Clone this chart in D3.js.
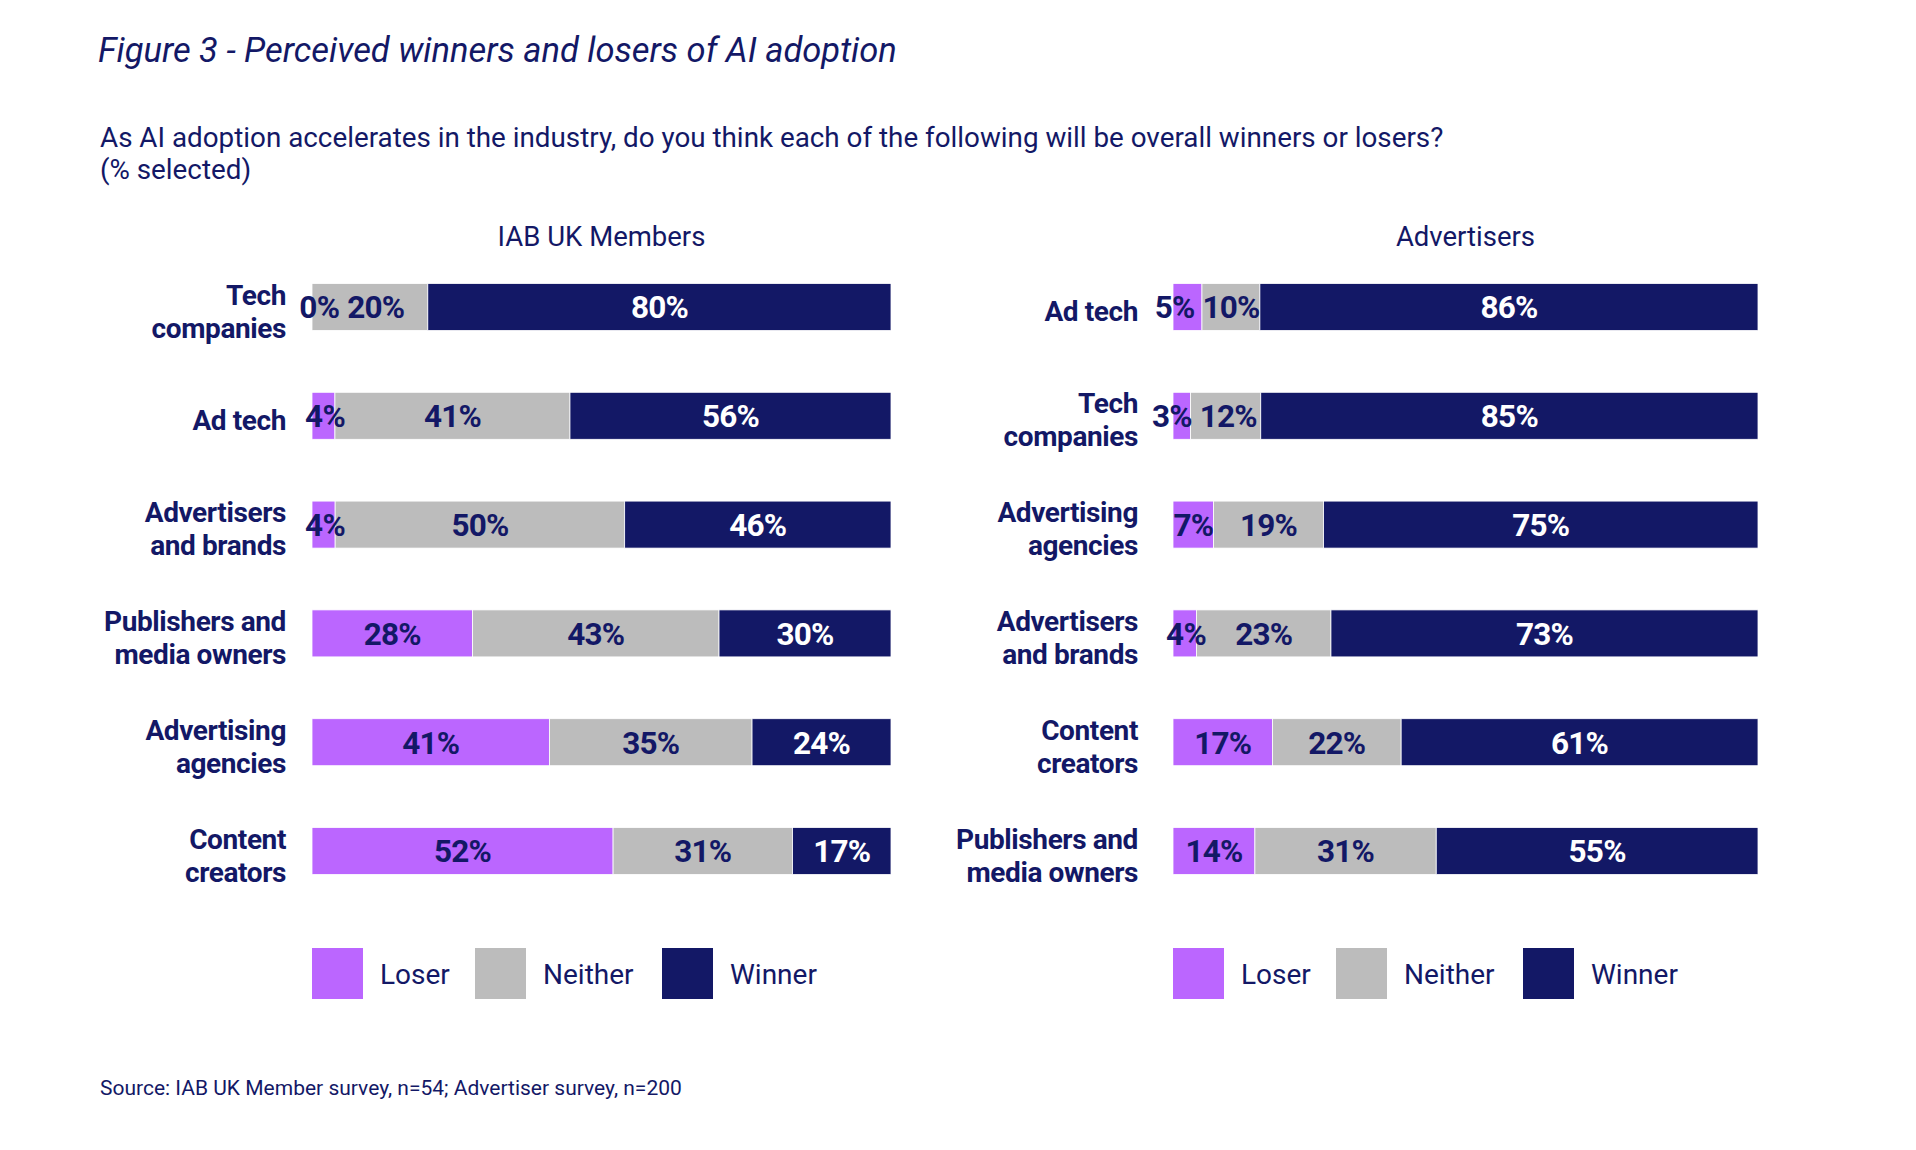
<!DOCTYPE html>
<html>
<head>
<meta charset="utf-8">
<script src="https://cdn.jsdelivr.net/npm/d3@7"></script>
<style>
  html, body { margin: 0; padding: 0; background: #fff; }
  svg { display: block; font-family: Roboto, 'Open Sans', sans-serif; }
</style>
</head>
<body>
<svg id="chart" width="1916" height="1150"></svg>
<script>
// --- data ---
const series = ['Loser', 'Neither', 'Winner']
const colors = ['#bb66ff', '#bcbcbc', '#131866']

const membersCategories = [
  'Tech companies', 'Ad tech', 'Advertisers and brands',
  'Publishers and media owners', 'Advertising agencies', 'Content creators'
]
const membersLoser = [0, 4, 4, 28, 41, 52]
const membersNeither = [20, 41, 50, 43, 35, 31]
const membersWinner = [80, 56, 46, 30, 24, 17]

const advertisersCategories = [
  'Ad tech', 'Tech companies', 'Advertising agencies',
  'Advertisers and brands', 'Content creators', 'Publishers and media owners'
]
const advertisersLoser = [5, 3, 7, 4, 17, 14]
const advertisersNeither = [10, 12, 19, 23, 22, 31]
const advertisersWinner = [86, 85, 75, 73, 61, 55]

// how the category names wrap on two lines
const labelLines = {
  'Tech companies': ['Tech', 'companies'],
  'Ad tech': ['Ad tech'],
  'Advertisers and brands': ['Advertisers', 'and brands'],
  'Publishers and media owners': ['Publishers and', 'media owners'],
  'Advertising agencies': ['Advertising', 'agencies'],
  'Content creators': ['Content', 'creators']
}

const navy = '#131866'
const svg = d3.select('#chart')

svg.append('text')
  .attr('x', 98).attr('y', 62)
  .attr('font-size', 34.5).attr('font-style', 'italic')
  .attr('fill', navy)
  .text('Figure 3 - Perceived winners and losers of AI adoption')

svg.append('text')
  .attr('x', 100).attr('y', 147)
  .attr('font-size', 27.8).attr('fill', navy)
  .text('As AI adoption accelerates in the industry, do you think each of the following will be overall winners or losers?')
svg.append('text')
  .attr('x', 100).attr('y', 179)
  .attr('font-size', 27.8).attr('fill', navy)
  .text('(% selected)')

svg.append('text')
  .attr('x', 100).attr('y', 1095)
  .attr('font-size', 21).attr('fill', navy)
  .text('Source: IAB UK Member survey, n=54; Advertiser survey, n=200')

function drawPanel(title, categories, loser, neither, winner, x0, x1, labelRight) {
  const rows = categories.map((c, i) => ({
    category: c, Loser: loser[i], Neither: neither[i], Winner: winner[i]
  }))
  const stacked = d3.stack().keys(series).offset(d3.stackOffsetExpand)(rows)

  const x = d3.scaleLinear().domain([0, 1]).range([x0, x1])
  const y = d3.scaleBand()
    .domain(categories)
    .range([252.6, 905.4])
    .paddingInner(0.568)
    .paddingOuter(0.284)

  const g = svg.append('g')

  g.append('text')
    .attr('x', (x0 + x1) / 2).attr('y', 246)
    .attr('text-anchor', 'middle')
    .attr('font-size', 27.5).attr('fill', navy)
    .text(title)

  g.selectAll('g.layer')
    .data(stacked)
    .join('g')
    .attr('class', 'layer')
    .attr('fill', (d, i) => colors[i])
    .selectAll('rect')
    .data(d => d)
    .join('rect')
    .attr('x', d => x(d[0]))
    .attr('y', d => y(d.data.category))
    .attr('width', d => x(d[1]) - x(d[0]))
    .attr('height', y.bandwidth())
    .attr('stroke', '#fff')
    .attr('stroke-width', 0.8)

  // value labels go on top of every bar
  const labels = stacked.flatMap((s, i) => s.map((v, r) => ({ v, key: series[i], idx: i, row: r })))
  const valueText = g.append('g').selectAll('text')
    .data(labels)
    .join('text')
    .attr('x', d => Math.max((x(d.v[0]) + x(d.v[1])) / 2, x0 + 13))
    .attr('y', d => y(d.v.data.category) + y.bandwidth() / 2)
    .attr('dy', '0.36em')
    .attr('text-anchor', 'middle')
    .attr('font-size', 31.5).attr('font-weight', 700)
    .attr('letter-spacing', -0.8)
    .attr('fill', d => d.idx === 2 ? '#fff' : navy)
    .text(d => d.v.data[d.key] + '%')

  // push apart loser / neither labels that collide on narrow segments;
  // neither label only moves right as far as its own segment allows
  categories.forEach((c, r) => {
    const lo = valueText.filter(d => d.row === r && d.idx === 0)
    const ne = valueText.filter(d => d.row === r && d.idx === 1)
    const lw = lo.node().getComputedTextLength()
    const nw = ne.node().getComputedTextLength()
    const lx = +lo.attr('x'), nx = +ne.attr('x')
    const overlap = (lx + lw / 2 + 8) - (nx - nw / 2)
    if (overlap > 0) {
      const segEnd = x(ne.datum().v[1])
      const room = Math.max(0, segEnd - 4 - (nx + nw / 2))
      const shiftN = Math.min(overlap / 2, room)
      ne.attr('x', nx + shiftN)
      lo.attr('x', lx - (overlap - shiftN))
    }
  })

  // category labels
  categories.forEach(c => {
    const lines = labelLines[c]
    const cy = y(c) + y.bandwidth() / 2 + 4
    const t = g.append('text')
      .attr('x', labelRight)
      .attr('text-anchor', 'end')
      .attr('font-size', 28).attr('font-weight', 700)
      .attr('letter-spacing', -0.4)
      .attr('fill', navy)
    lines.forEach((l, i) => {
      t.append('tspan')
        .attr('x', labelRight)
        .attr('y', cy + (i - (lines.length - 1) / 2) * 33)
        .attr('dy', '0.36em')
        .text(l)
    })
  })

  // legend
  const legendX = [x0, x0 + 163, x0 + 350]
  const legend = g.selectAll('g.legend')
    .data(series)
    .join('g')
    .attr('class', 'legend')
    .attr('transform', (d, i) => `translate(${legendX[i]},948)`)
  legend.append('rect')
    .attr('width', 51).attr('height', 51)
    .attr('fill', (d, i) => colors[i])
  legend.append('text')
    .attr('x', 68).attr('y', 26)
    .attr('dy', '0.36em')
    .attr('font-size', 28).attr('fill', navy)
    .text(d => d)
}

drawPanel('IAB UK Members', membersCategories, membersLoser, membersNeither, membersWinner, 312, 891, 286)
drawPanel('Advertisers', advertisersCategories, advertisersLoser, advertisersNeither, advertisersWinner, 1173, 1758, 1138)
</script>
</body>
</html>
